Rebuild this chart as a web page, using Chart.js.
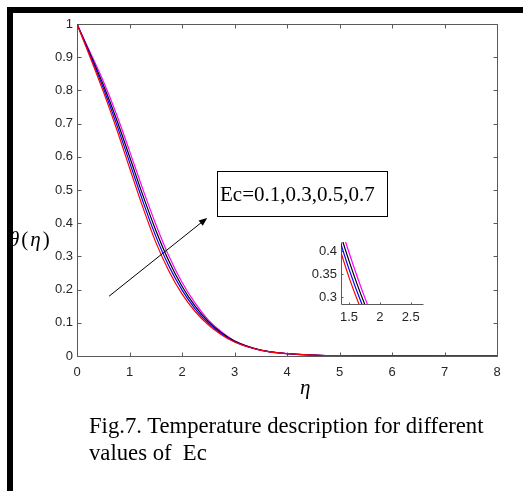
<!DOCTYPE html>
<html>
<head>
<meta charset="utf-8">
<script src="https://cdn.jsdelivr.net/npm/chart.js@4.4.0/dist/chart.umd.min.js"></script>
<style>
  html, body { margin: 0; padding: 0; background: #fff; }
  #page { position: relative; width: 523px; height: 491px; overflow: hidden; background: #fff; }
  #mainCanvas { position: absolute; left: 0; top: 0; }
  #insetCanvas { position: absolute; left: 300px; top: 230px; }
  .bar { position: absolute; background: #000; }
  .serif { position: absolute; font-family: 'Liberation Serif', 'Times New Roman', serif; color: #000; white-space: nowrap; }
  #ecBox { left: 217px; top: 171px; width: 167px; height: 44px; border: 1.5px solid #000; font-size: 21px; line-height: 44px; padding-left: 2px; box-sizing: content-box; }
  #ylab { left: 9px; top: 227px; font-size: 21px; letter-spacing: 2px; }
  #xlab { left: 300px; top: 375px; font-size: 21px; font-style: italic; }
  #caption { left: 89px; top: 412px; font-size: 22.7px; line-height: 27px; }
</style>
</head>
<body>
<div id="page">
  <canvas id="mainCanvas" width="523" height="491"></canvas>
  <canvas id="insetCanvas" width="130" height="95"></canvas>
  <div class="bar" style="left:7px;top:7px;width:516px;height:6px"></div>
  <div class="bar" style="left:7px;top:7px;width:6px;height:484px"></div>
  <div class="serif" id="ecBox">Ec=0.1,0.3,0.5,0.7</div>
  <div class="serif" id="ylab"><i>θ</i>(<i>η</i>)</div>
  <div class="serif" id="xlab">η</div>
  <div class="serif" id="caption">Fig.7. Temperature description for different<br>values of&nbsp; Ec</div>
</div>
<script>
// dati
const eta = [0, 0.25, 0.5, 0.75, 1, 1.25, 1.5, 1.75, 2, 2.25, 2.5, 2.75, 3, 3.5, 4, 4.5, 5, 6, 7, 8];
const ecLabels = ['Ec=0.1', 'Ec=0.3', 'Ec=0.5', 'Ec=0.7'];
const thetaEc01 = [1, 0.900, 0.797, 0.686, 0.567, 0.450, 0.343, 0.256, 0.187, 0.134, 0.094, 0.064, 0.042, 0.0170, 0.0070, 0.003, 0.001, 0.0002, 0, 0];
const thetaEc03 = [1, 0.905, 0.807, 0.700, 0.584, 0.468, 0.361, 0.271, 0.199, 0.142, 0.099, 0.067, 0.043, 0.0173, 0.0072, 0.003, 0.001, 0.0002, 0, 0];
const thetaEc05 = [1, 0.910, 0.817, 0.714, 0.601, 0.486, 0.379, 0.286, 0.210, 0.150, 0.104, 0.070, 0.045, 0.0177, 0.0073, 0.003, 0.001, 0.0002, 0, 0];
const thetaEc07 = [1, 0.915, 0.828, 0.729, 0.618, 0.504, 0.397, 0.301, 0.222, 0.159, 0.109, 0.073, 0.046, 0.0180, 0.0075, 0.003, 0.001, 0.0002, 0, 0];

const xTicks = [0, 1, 2, 3, 4, 5, 6, 7, 8];
const yTicks = [0, 0.1, 0.2, 0.3, 0.4, 0.5, 0.6, 0.7, 0.8, 0.9, 1];
const insetXTicks = [1.5, 2, 2.5];
const insetYTicks = [0.3, 0.35, 0.4];

// freccia: da (eta, theta) a (eta, theta)
const arrowFrom = [0.61, 0.18];
const arrowTo = [2.48, 0.416];

const colori = ['#ff0000', '#0000ff', '#000000', '#ff00ff'];
const serie = [thetaEc01, thetaEc03, thetaEc05, thetaEc07];

function makeDatasets() {
  return serie.map((vals, i) => ({
    label: ecLabels[i],
    data: eta.map((e, k) => ({ x: e, y: vals[k] })),
    borderColor: colori[i],
    borderWidth: 1.2,
    pointRadius: 0,
    fill: false,
    cubicInterpolationMode: 'monotone'
  }));
}

// box stile MATLAB con tacche verso l'interno (disegnato sotto le curve)
function axesBox(len, full) {
  return {
    id: 'axesBox',
    beforeDatasetsDraw(chart) {
      const { ctx, chartArea: a, scales: { x, y } } = chart;
      const L = Math.round(a.left) + 0.5, R = Math.round(a.right) + 0.5;
      const T = Math.round(a.top) + 0.5, B = Math.round(a.bottom) + 0.5;
      ctx.save();
      ctx.strokeStyle = '#5a5a5a';
      ctx.lineWidth = 1;
      ctx.beginPath();
      if (full) ctx.rect(L, T, R - L, B - T);
      else { ctx.moveTo(L, T); ctx.lineTo(L, B); ctx.lineTo(R, B); }
      x.ticks.forEach(t => {
        const px = Math.round(x.getPixelForValue(t.value)) + 0.5;
        ctx.moveTo(px, B); ctx.lineTo(px, B - len);
        if (full) { ctx.moveTo(px, T); ctx.lineTo(px, T + len); }
      });
      y.ticks.forEach(t => {
        const py = Math.round(y.getPixelForValue(t.value)) + 0.5;
        ctx.moveTo(L, py); ctx.lineTo(L + len, py);
        if (full) { ctx.moveTo(R, py); ctx.lineTo(R - len, py); }
      });
      ctx.stroke();
      ctx.restore();
    }
  };
}

const arrowPlugin = {
  id: 'arrow',
  afterDraw(chart) {
    const { ctx, scales: { x, y } } = chart;
    const x0 = x.getPixelForValue(arrowFrom[0]), y0 = y.getPixelForValue(arrowFrom[1]);
    const x1 = x.getPixelForValue(arrowTo[0]), y1 = y.getPixelForValue(arrowTo[1]);
    const ang = Math.atan2(y1 - y0, x1 - x0);
    const h = 9;
    ctx.save();
    ctx.strokeStyle = '#000';
    ctx.fillStyle = '#000';
    ctx.lineWidth = 1;
    ctx.beginPath();
    ctx.moveTo(x0, y0);
    ctx.lineTo(x1 - h * 0.8 * Math.cos(ang), y1 - h * 0.8 * Math.sin(ang));
    ctx.stroke();
    ctx.beginPath();
    ctx.moveTo(x1, y1);
    ctx.lineTo(x1 - h * Math.cos(ang - 0.38), y1 - h * Math.sin(ang - 0.38));
    ctx.lineTo(x1 - h * Math.cos(ang + 0.38), y1 - h * Math.sin(ang + 0.38));
    ctx.closePath();
    ctx.fill();
    ctx.restore();
  }
};

const tickFont = { family: "'Liberation Sans', Arial, sans-serif", size: 13 };
const tickColor = '#262626';

// --- GRAFICO PRINCIPALE ---
new Chart(document.getElementById('mainCanvas'), {
  type: 'line',
  data: { datasets: makeDatasets() },
  options: {
    responsive: false,
    animation: false,
    events: [],
    layout: { padding: { top: 24, right: 26, bottom: 105, left: 0 } },
    plugins: { legend: { display: false }, tooltip: { enabled: false } },
    scales: {
      x: {
        type: 'linear', min: 0, max: 8,
        afterBuildTicks: s => { s.ticks = xTicks.map(v => ({ value: v })); },
        afterFit: s => { s.height = 30; },
        grid: { display: false, drawTicks: false },
        border: { display: false },
        ticks: { font: tickFont, color: tickColor, padding: 9, maxRotation: 0, autoSkip: false, callback: v => String(v) }
      },
      y: {
        type: 'linear', min: 0, max: 1,
        afterBuildTicks: s => { s.ticks = yTicks.map(v => ({ value: v })); },
        afterFit: s => { s.width = 77; },
        grid: { display: false, drawTicks: false },
        border: { display: false },
        ticks: { font: tickFont, color: tickColor, padding: 4, autoSkip: false, callback: v => String(v) }
      }
    }
  },
  plugins: [axesBox(4, true), arrowPlugin]
});

// --- INSERTO (zoom) ---
new Chart(document.getElementById('insetCanvas'), {
  type: 'line',
  data: { datasets: makeDatasets() },
  options: {
    responsive: false,
    animation: false,
    events: [],
    layout: { padding: { top: 12, right: 7, bottom: 0, left: 0 } },
    plugins: { legend: { display: false }, tooltip: { enabled: false } },
    scales: {
      x: {
        type: 'linear', min: 1.37, max: 2.7,
        afterBuildTicks: s => { s.ticks = insetXTicks.map(v => ({ value: v })); },
        afterFit: s => { s.height = 21; },
        grid: { display: false, drawTicks: false },
        border: { display: false },
        ticks: { font: tickFont, color: tickColor, padding: 6, maxRotation: 0, autoSkip: false, callback: v => String(v) }
      },
      y: {
        type: 'linear', min: 0.285, max: 0.42,
        afterBuildTicks: s => { s.ticks = insetYTicks.map(v => ({ value: v })); },
        afterFit: s => { s.width = 41; },
        grid: { display: false, drawTicks: false },
        border: { display: false },
        ticks: { font: tickFont, color: tickColor, padding: 4, autoSkip: false, callback: v => String(v) }
      }
    }
  },
  plugins: [axesBox(2, false)]
});
</script>
</body>
</html>
